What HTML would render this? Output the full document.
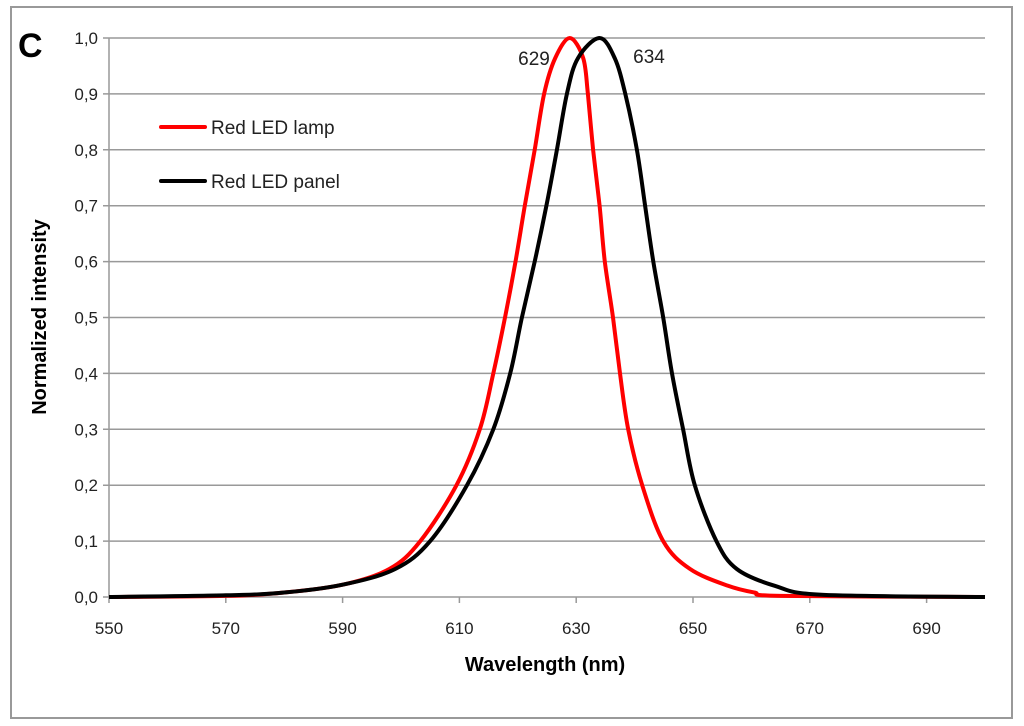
<!DOCTYPE html>
<html><head><meta charset="utf-8"><style>
body{margin:0;background:#fff;}
svg{display:block;font-family:"Liberation Sans",sans-serif;}
</style></head><body>
<svg width="1024" height="726" viewBox="0 0 1024 726">
<rect x="11" y="7" width="1001" height="711" fill="#fff" stroke="#999" stroke-width="2"/>
<text x="18" y="57" font-size="34" font-weight="bold">C</text>
<g id="grid"></g><g id="axes"></g><g id="series"></g>
<text x="534" y="65" font-size="19" text-anchor="middle" fill="#222">629</text>
<text x="649" y="63" font-size="19" text-anchor="middle" fill="#222">634</text>
<g>
<line x1="161" y1="127" x2="205" y2="127" stroke="#f00" stroke-width="4" stroke-linecap="round"/>
<text x="211" y="134" font-size="19" fill="#222">Red LED lamp</text>
<line x1="161" y1="181" x2="205" y2="181" stroke="#000" stroke-width="4" stroke-linecap="round"/>
<text x="211" y="188" font-size="19" fill="#222">Red LED panel</text>
</g>
<text x="545" y="671" font-size="20" font-weight="bold" text-anchor="middle">Wavelength (nm)</text>
<text transform="translate(46,317) rotate(-90)" font-size="20" font-weight="bold" text-anchor="middle">Normalized intensity</text>
</svg>
<script>
const xTicks=[550,570,590,610,630,650,670,690];
const yTicks=[0,0.1,0.2,0.3,0.4,0.5,0.6,0.7,0.8,0.9,1.0];
const lampWl=[550,570,580,590,598,603.3,609.5,613.5,615.8,617.8,619.6,621.2,622.9,624.5,626.4,628.9,631.2,632,632.9,634,634.9,636.3,637.5,638.9,641.3,644.9,649.5,656,660.5,665,700];
const lampVal=[0,0.002,0.008,0.022,0.05,0.1,0.2,0.3,0.4,0.5,0.6,0.7,0.8,0.9,0.964,1.0,0.964,0.9,0.8,0.7,0.6,0.5,0.4,0.3,0.2,0.1,0.05,0.02,0.008,0.002,0];
const panelWl=[550,570,580,590,599,605,611.3,615.8,618.7,620.7,622.9,624.9,626.7,628.4,630.3,634,636.6,638.4,640.4,641.8,643.2,644.9,646.4,648.3,650.3,654,657.5,664,672,700];
const panelVal=[0,0.003,0.008,0.022,0.05,0.1,0.2,0.3,0.4,0.5,0.6,0.7,0.8,0.9,0.964,1.0,0.964,0.9,0.8,0.7,0.6,0.5,0.4,0.3,0.2,0.1,0.05,0.02,0.004,0];
const X0=109,X1=985,Y0=597,Y1=38,xMin=550,xMax=700;
const xS=v=>X0+(v-xMin)/(xMax-xMin)*(X1-X0);
const yS=v=>Y0-v*(Y0-Y1);
const NS='http://www.w3.org/2000/svg';
function mk(t,a,p){const e=document.createElementNS(NS,t);for(const k in a)e.setAttribute(k,a[k]);p.appendChild(e);return e;}
const g=document.getElementById('grid'),ax=document.getElementById('axes'),s=document.getElementById('series');
yTicks.forEach(v=>{
 const l=mk('line',{x1:X0-6,x2:X1,y1:yS(v),y2:yS(v),stroke:'#999','stroke-width':1.5},g);
 
 
 const t=mk('text',{x:X0-11,y:yS(v)+6,'font-size':17,'text-anchor':'end',fill:'#222'},ax);
 t.textContent=v.toFixed(1).replace('.',',');
 
 
});
const yl=mk('line',{x1:X0,x2:X0,y1:Y1,y2:Y0,stroke:'#999','stroke-width':1.5},ax);


xTicks.forEach(v=>{
 const l=mk('line',{x1:xS(v),x2:xS(v),y1:Y0,y2:Y0+6,stroke:'#999','stroke-width':1.5},ax);
 
 
 const t=mk('text',{x:xS(v),y:Y0+37,'font-size':17,'text-anchor':'middle',fill:'#222'},ax);
 t.textContent=v;
 
 
});
function line(wl,val,col,name){
 const P=wl.map((w,i)=>[xS(w),yS(val[i])]);
 let d='M'+P[0][0].toFixed(1)+','+P[0][1].toFixed(1);
 for(let i=0;i<P.length-1;i++){
  const p0=P[Math.max(0,i-1)],p1=P[i],p2=P[i+1],p3=P[Math.min(P.length-1,i+2)];
  const c1=[p1[0]+(p2[0]-p0[0])/6,p1[1]+(p2[1]-p0[1])/6];
  const c2=[p2[0]-(p3[0]-p1[0])/6,p2[1]-(p3[1]-p1[1])/6];
  d+=' C'+c1.map(n=>n.toFixed(1)).join(',')+' '+c2.map(n=>n.toFixed(1)).join(',')+' '+p2[0].toFixed(1)+','+p2[1].toFixed(1);
 }
 const p=mk('path',{d:d,fill:'none',stroke:col,'stroke-width':4,'stroke-linejoin':'round'},s);
 
 
}
line(lampWl,lampVal,'#f00','series-red-led-lamp');
line(panelWl,panelVal,'#000','series-red-led-panel');
</script>
</body></html>
